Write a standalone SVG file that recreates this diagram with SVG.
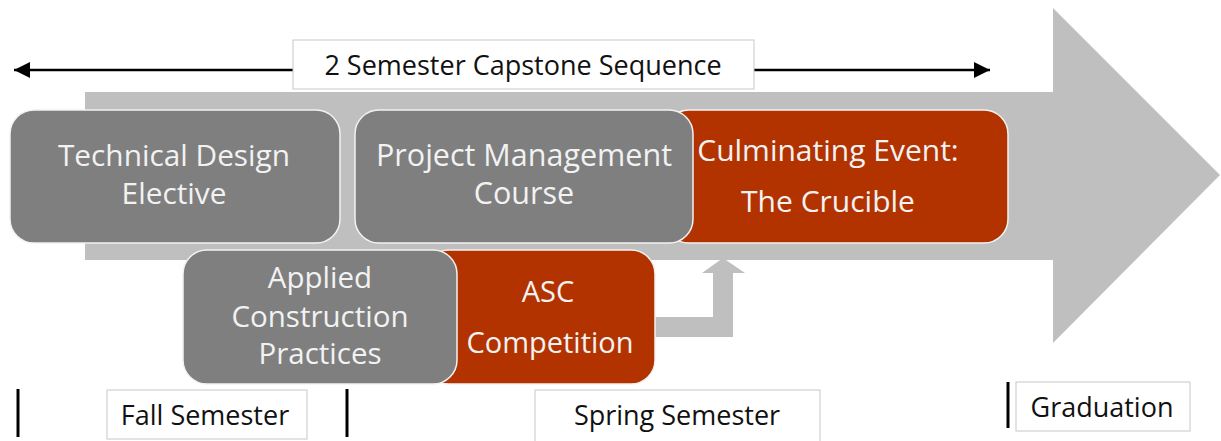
<svg xmlns="http://www.w3.org/2000/svg" width="1221" height="441" viewBox="0 0 1221 441">
<style>
  .gbox { fill: #7f7f7f; stroke: #f2f2f2; stroke-width: 1.5; }
  .obox { fill: #b33300; stroke: #f2f2f2; stroke-width: 1.5; }
  .lbl { fill: #ffffff; stroke: #c8c8c8; stroke-width: 1; }
  .wt { font-family: "Open Sans", "Noto Sans", sans-serif; fill: #f2f2f2; text-anchor: middle; }
  .bt { font-family: "Open Sans", "Noto Sans", sans-serif; fill: #111111; text-anchor: middle; font-size: 27px; }
  .bar { stroke: #000000; stroke-width: 3; }
</style>
<defs>
  <marker id="ah" viewBox="0 0 10 10" refX="10" refY="5" markerWidth="6.5" markerHeight="6.5" markerUnits="strokeWidth" orient="auto-start-reverse">
    <path d="M0,0 L10,5 L0,10 z" fill="#000000"/>
  </marker>
</defs>
<rect width="1221" height="441" fill="#ffffff"/>
<g id="timeline-arrow">
  <polygon points="85,92 1053,92 1053,8 1220,175 1053,343 1053,260 85,260" fill="#bfbfbf"/>
</g>
<g id="connectors">
  <polygon points="655,317 713,317 713,273 702,273 723,258 745,273 733,273 733,337 655,337" fill="#bfbfbf"/>
  <line x1="14" y1="70" x2="990" y2="70" stroke="#000000" stroke-width="2.5" marker-start="url(#ah)" marker-end="url(#ah)"/>
</g>
<g id="culminating-event">
  <rect class="obox" x="665" y="110" width="343" height="133" rx="24"/>
  <text class="wt" x="828" y="161" font-size="30">Culminating Event:</text>
  <text class="wt" x="828" y="212" font-size="30">The Crucible</text>
</g>
<g id="project-management">
  <rect class="gbox" x="355" y="110" width="338" height="133" rx="24"/>
  <text class="wt" x="524" y="166" font-size="30.5">Project Management</text>
  <text class="wt" x="524" y="204" font-size="30.5">Course</text>
</g>
<g id="technical-design">
  <rect class="gbox" x="10" y="110" width="330" height="133" rx="24"/>
  <text class="wt" x="174" y="166" font-size="29.8">Technical Design</text>
  <text class="wt" x="174" y="204" font-size="29.8">Elective</text>
</g>
<g id="asc-competition">
  <rect class="obox" x="425" y="250" width="230" height="134" rx="24"/>
  <text class="wt" x="548" y="302" font-size="29">ASC</text>
  <text class="wt" x="550" y="353" font-size="29">Competition</text>
</g>
<g id="applied-construction">
  <rect class="gbox" x="183" y="250" width="274" height="134" rx="24"/>
  <text class="wt" x="320" y="288" font-size="29.5">Applied</text>
  <text class="wt" x="320" y="327" font-size="29.5">Construction</text>
  <text class="wt" x="320" y="364" font-size="29.5">Practices</text>
</g>
<g id="sequence-label">
  <rect class="lbl" x="293" y="40" width="461" height="49"/>
  <text class="bt" x="523" y="75">2 Semester Capstone Sequence</text>
</g>
<g id="fall-semester">
  <line class="bar" x1="18" y1="389" x2="18" y2="437"/>
  <rect class="lbl" x="107" y="390" width="200" height="49"/>
  <text class="bt" x="205" y="425">Fall Semester</text>
</g>
<g id="spring-semester">
  <line class="bar" x1="347" y1="389" x2="347" y2="437"/>
  <rect class="lbl" x="535" y="390" width="285" height="55"/>
  <text class="bt" x="677" y="425">Spring Semester</text>
</g>
<g id="graduation">
  <line class="bar" x1="1008" y1="382" x2="1008" y2="428"/>
  <rect class="lbl" x="1016" y="382" width="174" height="49"/>
  <text class="bt" x="1102" y="417">Graduation</text>
</g>
</svg>
